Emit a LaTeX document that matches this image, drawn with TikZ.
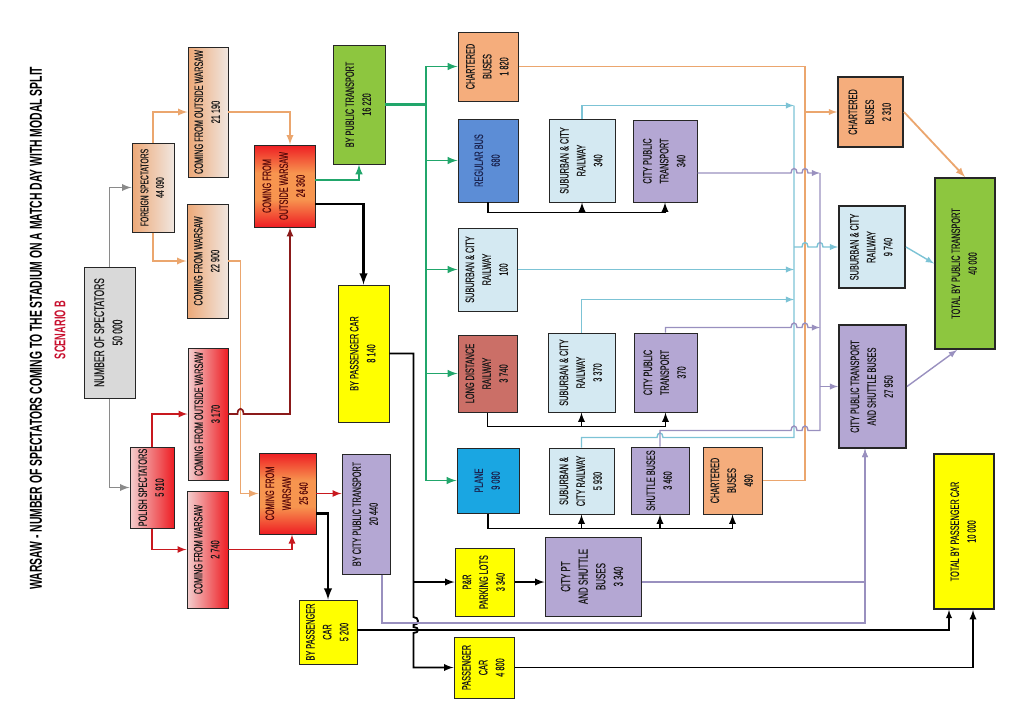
\documentclass[tikz,border=0pt]{standalone}
\usepackage{fontspec}
\newfontfamily\condfont[FakeStretch=0.6,FakeBold=0.3]{Liberation Sans}
\newfontfamily\titlefont[FakeStretch=0.6]{Liberation Sans}
\usetikzlibrary{calc,arrows}
\definecolor{boxgray}{HTML}{D9D9D9}
\definecolor{peach}{HTML}{EDA877}
\definecolor{pale}{HTML}{F0E6DF}
\definecolor{pinkish}{HTML}{F3CFCF}
\definecolor{brightred}{HTML}{EE1D23}
\definecolor{midorange}{HTML}{F7954F}
\definecolor{ptgreen}{HTML}{8DC63F}
\definecolor{caryellow}{HTML}{FFFF00}
\definecolor{lavbox}{HTML}{B4A7D3}
\definecolor{chorange}{HTML}{F5AD7C}
\definecolor{busblue}{HTML}{5C8DD6}
\definecolor{railblue}{HTML}{D4E9F2}
\definecolor{ldred}{HTML}{CB6F67}
\definecolor{planeblue}{HTML}{1AA6E2}
\definecolor{navytext}{HTML}{1B2552}
\definecolor{redtext}{HTML}{5A0A0A}
\definecolor{scenred}{HTML}{C8102E}
\definecolor{linegray}{HTML}{8A8A8A}
\definecolor{lineorange}{HTML}{EBA66E}
\definecolor{linered}{HTML}{C8181E}
\definecolor{darkredline}{HTML}{8B1A1A}
\definecolor{linegreen}{HTML}{21A66B}
\definecolor{lineblue}{HTML}{7CC3D5}
\definecolor{linelav}{HTML}{9990BF}
\pgfdeclarehorizontalshading{hotshade}{100bp}{color(0bp)=(brightred); color(25bp)=(brightred); color(42bp)=(midorange); color(58bp)=(midorange); color(75bp)=(brightred); color(100bp)=(brightred)}
\newcommand{\vtext}[1]{\rotatebox{90}{\begin{tabular}{@{}c@{}}#1\end{tabular}}}

\begin{document}
\begin{tikzpicture}
		[   x=0.025cm, y=-0.025cm,
		    cbox/.style 2 args={draw=black!85,line width=0.7pt,minimum width=#1*0.025cm,minimum height=#2*0.025cm,inner sep=0pt,text=black!90,font=\condfont\fontsize{8.7}{12}\selectfont},
		    tbox/.style 2 args={cbox={#1}{#2},line width=1.4pt},
		    hot/.style={shading=hotshade,shading angle=90,text=redtext},
		]
		\tikzset{gray arrow/.style={draw=linegray,line width=1.3pt,-latex}}
		\tikzset{orange arrow/.style={draw=lineorange,line width=1.3pt,-latex}}
		\tikzset{red arrow/.style={draw=linered,line width=1.2pt,-latex}}
		\tikzset{green arrow/.style={draw=linegreen,line width=1.4pt,-latex}}
		\tikzset{black arrow/.style={draw=black,line width=1.3pt,-latex}}
		\tikzset{main arrow/.style={draw=black,line width=1.7pt,-latex}}
		\tikzset{blue arrow/.style={draw=lineblue,line width=1pt,-latex}}
		\tikzset{lav arrow/.style={draw=linelav,line width=1pt,-latex}}
		\useasboundingbox (0,0) rectangle (1024,725);
		
		\node (title) at (36,328) {\rotatebox{90}{\titlefont\bfseries\fontsize{12.3}{13}\selectfont WARSAW - NUMBER OF SPECTATORS COMING TO THE STADIUM ON A MATCH DAY WITH MODAL SPLIT}};
		\node[text=scenred] (scen) at (60,330) {\rotatebox{90}{\titlefont\bfseries\fontsize{11}{12}\selectfont SCENARIO B}};
		
		\node[cbox={51}{131},fill=boxgray,font=\condfont\fontsize{10}{13}\selectfont] (num) at (109.5,332.5) {\vtext{NUMBER OF SPECTATORS\\50 000}};
		
		\node[cbox={42}{89},left color=peach,right color=pale,font=\condfont\fontsize{8}{11}\selectfont] (foreign) at (153,187.5) {\vtext{FOREIGN SPECTATORS\\44 090}};
		\node[cbox={40}{130},left color=peach,right color=pale] (fout) at (208,112) {\vtext{COMING FROM OUTSIDE WARSAW\\21 190}};
		\node[cbox={41}{114},left color=peach,right color=pale] (fwar) at (207.5,261) {\vtext{COMING FROM WARSAW\\22 900}};
		
		\node[cbox={44}{81},left color=pinkish,right color=brightred] (pol) at (152,487.5) {\vtext{POLISH SPECTATORS\\5 910}};
		\node[cbox={40}{132},left color=pinkish,right color=brightred] (pout) at (208,414) {\vtext{COMING FROM OUTSIDE WARSAW\\3 170}};
		\node[cbox={41}{117},left color=pinkish,right color=brightred] (pwar) at (207.5,549.5) {\vtext{COMING FROM WARSAW\\2 740}};
		
		\node[cbox={61}{82},hot] (out) at (284.5,186) {\vtext{COMING FROM\\OUTSIDE WARSAW\\24 360}};
		\node[cbox={57}{81},hot] (war) at (287.5,493.5) {\vtext{COMING FROM\\WARSAW\\25 640}};
		
		\node[cbox={52}{119},fill=ptgreen] (pubt) at (359,104.5) {\vtext{BY PUBLIC TRANSPORT\\16 220}};
		\node[cbox={51}{137},fill=caryellow] (car1) at (363.5,353.5) {\vtext{BY PASSENGER CAR\\8 140}};
		\node[cbox={48}{120},fill=lavbox] (citypt) at (366,514) {\vtext{BY CITY PUBLIC TRANSPORT\\20 440}};
		\node[cbox={58}{64},fill=caryellow] (car2) at (328,632) {\vtext{BY PASSENGER\\CAR\\5 200}};
		
		\node[cbox={60}{69},fill=chorange] (chb1) at (488,66.5) {\vtext{CHARTERED\\BUSES\\1 820}};
		\node[cbox={60}{83},fill=busblue,text=navytext] (rbus) at (488,160.5) {\vtext{REGULAR BUS\\680}};
		\node[cbox={59}{83},fill=railblue] (sub100) at (487.5,269.5) {\vtext{SUBURBAN \& CITY\\RAILWAY\\100}};
		\node[cbox={59}{77},fill=ldred] (ldr) at (487.5,373.5) {\vtext{LONG DISTANCE\\RAILWAY\\3 740}};
		\node[cbox={62}{65},fill=planeblue,text=navytext] (plane) at (488,480.5) {\vtext{PLANE\\9 080}};
		
		\node[cbox={66}{83},fill=railblue] (sub340) at (582,160.5) {\vtext{SUBURBAN \& CITY\\RAILWAY\\340}};
		\node[cbox={64}{82},fill=lavbox] (cpt340) at (665,161) {\vtext{CITY PUBLIC\\TRANSPORT\\340}};
		\node[cbox={67}{79},fill=railblue] (sub3370) at (581.5,372.5) {\vtext{SUBURBAN \& CITY\\RAILWAY\\3 370}};
		\node[cbox={63}{79},fill=lavbox] (cpt370) at (665.5,372.5) {\vtext{CITY PUBLIC\\TRANSPORT\\370}};
		\node[cbox={65}{66},fill=railblue] (sub5930) at (581.5,481) {\vtext{SUBURBAN \&\\CITY RAILWAY\\5 930}};
		\node[cbox={58}{67},fill=lavbox] (shut) at (660,480.5) {\vtext{SHUTTLE BUSES\\3 460}};
		\node[cbox={59}{67},fill=chorange] (chb490) at (732.5,480.5) {\vtext{CHARTERED\\BUSES\\490}};
		
		\node[cbox={59}{68},fill=caryellow] (pr) at (484.5,582) {\vtext{P\&R\\PARKING LOTS\\3 340}};
		\node[cbox={96}{79},fill=lavbox,font=\condfont\fontsize{9.4}{12.5}\selectfont] (cptsb) at (593,576.5) {\vtext{CITY PT\\AND SHUTTLE\\BUSES\\3 340}};
		\node[cbox={60}{61},fill=caryellow] (pcar) at (484,667.5) {\vtext{PASSENGER\\CAR\\4 800}};
		
		\node[tbox={65}{70},fill=chorange] (chb2310) at (870.5,112) {\vtext{CHARTERED\\BUSES\\2 310}};
		\node[tbox={66}{82},fill=railblue] (sub9740) at (872,247) {\vtext{SUBURBAN \& CITY\\RAILWAY\\9 740}};
		\node[tbox={67}{123},fill=lavbox] (cptall) at (872.5,386.5) {\vtext{CITY PUBLIC TRANSPORT\\AND SHUTTLE BUSES\\27 950}};
		\node[tbox={60}{171},fill=ptgreen] (totpt) at (965,263.5) {\vtext{TOTAL BY PUBLIC TRANSPORT\\40 000}};
		\node[tbox={60}{155},fill=caryellow] (totpc) at (964,531.5) {\vtext{TOTAL BY PASSENGER CAR\\10 000}};
		
		% split of spectators
		\path[gray arrow] (num.north) |- (foreign.west);
		\path[gray arrow] (num.south) |- (pol.west);
		\path[orange arrow] (foreign.north) |- (fout.west);
		\path[orange arrow] (foreign.south) |- (fwar.west);
		\path[orange arrow] (fout.east) -| ($(out.north)+(5.5,0)$);
		\path[orange arrow] (fwar.east) -- ++(12,0) |- (war.west);
		\path[red arrow] (pol.north) |- (pout.west);
		\path[red arrow] (pol.south) |- (pwar.west);
		\path[red arrow,draw=darkredline] (pout.east) -- ++(9,0) .. controls +(0,-7) and +(0,-7) .. ++(6,0) -| ($(out.south)+(5.5,0)$);
		\path[red arrow] (pwar.east) -| ($(war.south)+(4.5,0)$);
		\path[red arrow] (war.east) -- (war.east -| citypt.west);
		\path[main arrow] ($(war.east)+(0,20)$) -| (car2.north);
		\path[green arrow] ($(out.east)+(0,-6)$) -| (pubt.south);
		\path[main arrow] ($(out.east)+(0,18)$) -| (car1.north);
		
		% public transport
		\coordinate (gbus) at (426,104.5);
		\draw[linegreen,line width=2pt] (pubt.east) -- (gbus);
		\foreach \n in {chb1,rbus,sub100,ldr,plane}
		{
			\path[green arrow] (gbus) |- (\n.west);
		}
		
		\path[black arrow] (rbus.south) -- ++(0,10) coordinate (rb) -| (sub340.south);
		\path[black arrow] (rb) -| (cpt340.south);
		\path[black arrow] (ldr.south) -- ++(0,14) coordinate (lb) -| (sub3370.south);
		\path[black arrow] (lb) -| (cpt370.south);
		\path[black arrow] (plane.south) -- ++(0,15) coordinate (pb) -| (sub5930.south);
		\foreach \n in {shut,chb490}
		{
			\path[black arrow] (pb) -| (\n.south);
		}
		
		% passenger car
		\path[black arrow] (car1.east) -- ++(24,0) coordinate (cb) -- ++(0,263.5) .. controls +(6,0) and +(6,0) .. ++(0,8) -- ++(0,2) .. controls +(6,0) and +(6,0) .. ++(0,6) |- (pcar.west);
		\path[black arrow] (cb) |- (pr.west);
		\path[black arrow] (pr.east) -- (pr.east -| cptsb.west);
		\path[black arrow] (pcar.east) -| ($(totpc.south)+(9,0)$);
		\path[black arrow,line width=1pt] ($(car2.east)+(0,-2)$) -| ($(totpc.south)+(-15,0)$);
		\path[lav arrow] ($(citypt.south)+(16,0)$) |- ($(cptall.south)+(-7.5,174)$) -- ($(cptall.south)+(-7.5,0)$);
		\path[lav arrow] ($(cptsb.east)+(0,5.5)$) -| ($(cptall.south)+(-7.5,0)$);
		
		% collecting lines
		\coordinate (bbus) at (794,0);
		\coordinate (obus) at (805,0);
		\coordinate (lbus) at (820,0);
		\draw[lineorange,line width=1pt] (chb1.east) -- (chb1.east -| obus) -- (chb490.east -| obus) -- (chb490.east);
		\path[orange arrow,line width=1pt] (chb2310.west -| obus) -- (chb2310.west);
		\path[orange arrow] (chb2310.east) -- (totpt.north);
		
		\path[blue arrow] (sub340.north) -- ++(0,-13) coordinate (s1) -- (s1 -| bbus);
		\path[blue arrow] (sub100.east) -- (sub100.east -| bbus);
		\path[blue arrow] (sub3370.north) -- ++(0,-33) coordinate (s3) -- (s3 -| bbus);
		\draw[lineblue,line width=1pt] (sub5930.north) -- ++(0,-10) coordinate (s4) -- ($(s4 -| shut.north)+(-3,0)$) .. controls +(0,-6) and +(0,-6) .. ++(6,0) -- (s4 -| bbus) -- (s1 -| bbus);
		\path[blue arrow] (sub9740.west -| bbus) -- ($(sub9740.west -| obus)+(-3,0)$) .. controls +(0,-6) and +(0,-6) .. ++(6,0) -- ($(sub9740.west -| lbus)+(-3,0)$) .. controls +(0,-6) and +(0,-6) .. ++(6,0) -- (sub9740.west);
		\path[blue arrow] (sub9740.east) -- (totpt.west);
		
		\path[lav arrow] ($(cpt340.east)+(0,12)$) coordinate (l1) -- ($(l1 -| bbus)+(-3,0)$) .. controls +(0,-6) and +(0,-6) .. ++(6,0) -- ($(l1 -| obus)+(-3,0)$) .. controls +(0,-6) and +(0,-6) .. ++(6,0) -- (l1 -| lbus);
		\path[lav arrow] (cpt370.north) -- ++(0,-5) coordinate (l2) -- ($(l2 -| bbus)+(-3,0)$) .. controls +(0,-6) and +(0,-6) .. ++(6,0) -- ($(l2 -| obus)+(-3,0)$) .. controls +(0,-6) and +(0,-6) .. ++(6,0) -- (l2 -| lbus);
		\draw[linelav,line width=1pt] (shut.north) -- ++(0,-16) coordinate (l3) -- ($(l3 -| bbus)+(-3,0)$) .. controls +(0,-6) and +(0,-6) .. ++(6,0) -- ($(l3 -| obus)+(-3,0)$) .. controls +(0,-6) and +(0,-6) .. ++(6,0) -- (l3 -| lbus) -- (l1 -| lbus);
		\path[lav arrow] (cptall.west -| lbus) -- (cptall.west);
		\path[lav arrow] (cptall.east) -- ($(totpt.south)+(-8,0)$);
		
\end{tikzpicture}
\end{document}
